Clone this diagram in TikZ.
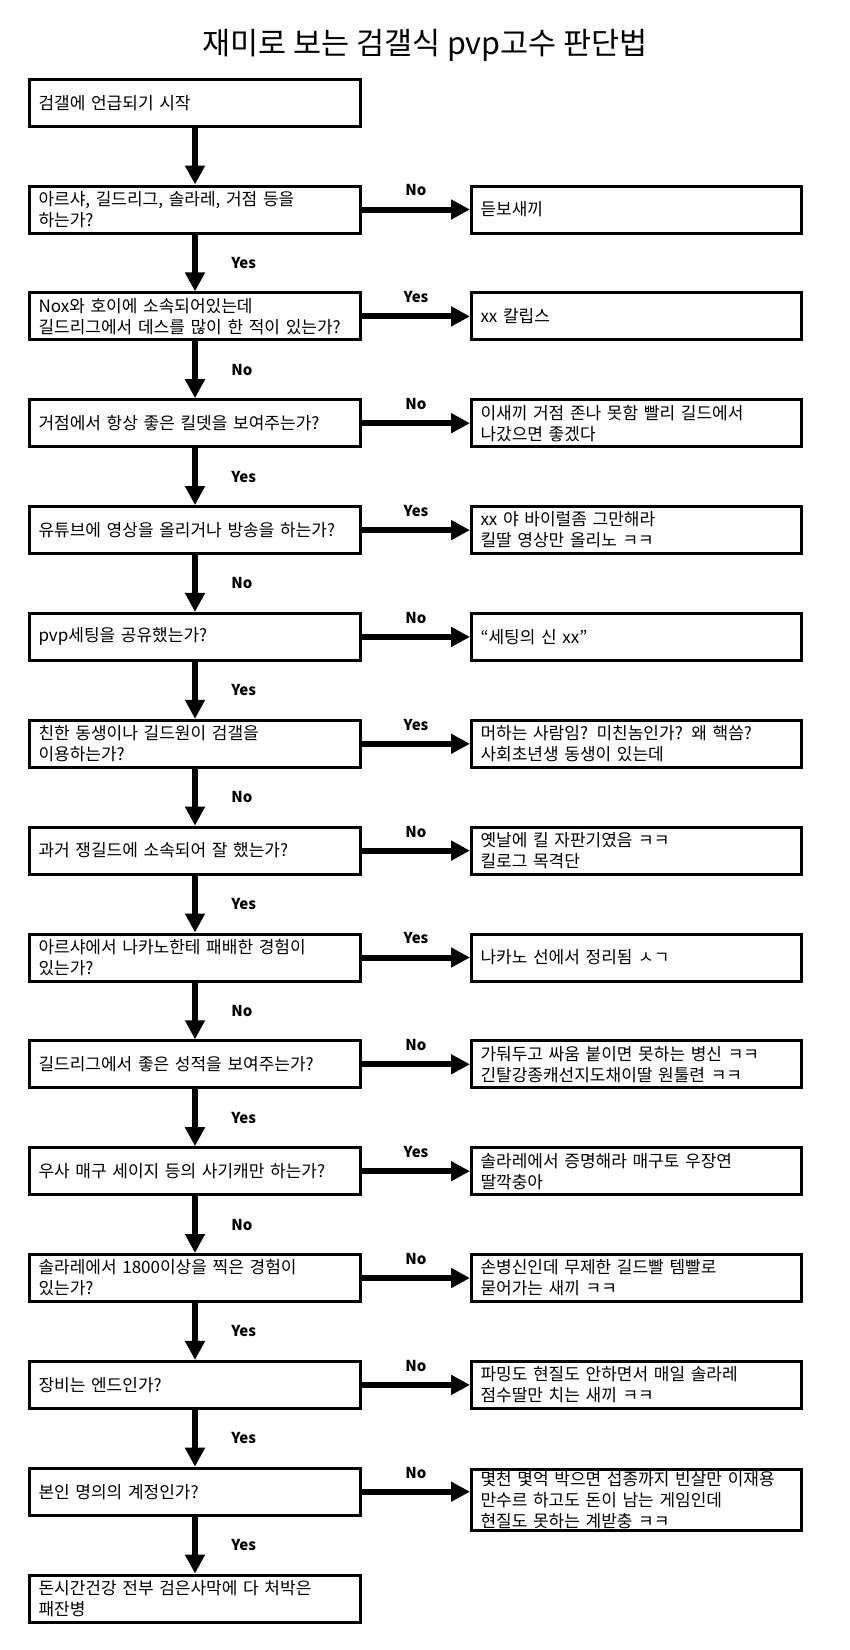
\documentclass[tikz,border=0pt]{standalone}
\usepackage{fontspec}
\setmainfont{Noto Sans CJK KR}
\usetikzlibrary{arrows.meta}

\tikzset{
  qbox/.style={draw, line width=3pt, anchor=west, minimum height=47pt,
    text width=313pt, inner xsep=9pt, inner ysep=3pt, align=left,
    font=\fontsize{17}{21}\selectfont},
  abox/.style={qbox, text width=312pt},
  flow/.style={line width=6pt, -{Triangle[length=19pt,width=19pt]}},
  ans/.style={font=\bfseries\fontsize{15}{17}\selectfont, midway}
}

\begin{document}
\begin{tikzpicture}[x=1pt,y=-1pt]
\useasboundingbox (0,0) rectangle (850,1650);
\node (title) at (425,45) {\fontsize{30.5}{36}\selectfont 재미로 보는 검갤식 pvp고수 판단법};

% questions
\node[qbox] (start) at (28,102.7) {검갤에 언급되기 시작};
\node[qbox] (q1) at (28,209.5) {아르샤, 길드리그, 솔라레, 거점 등을\\하는가?};
\node[qbox] (q2) at (28,316.4) {Nox와 호이에 소속되어있는데\\\mbox{길드리그에서 데스를 많이 한 적이 있는가?}};
\node[qbox] (q3) at (28,423.2) {거점에서 항상 좋은 킬뎃을 보여주는가?};
\node[qbox] (q4) at (28,530.1) {유튜브에 영상을 올리거나 방송을 하는가?};
\node[qbox] (q5) at (28,636.9) {pvp세팅을 공유했는가?};
\node[qbox] (q6) at (28,743.8) {친한 동생이나 길드원이 검갤을\\이용하는가?};
\node[qbox] (q7) at (28,850.6) {과거 쟁길드에 소속되어 잘 했는가?};
\node[qbox] (q8) at (28,957.5) {아르샤에서 나카노한테 패배한 경험이\\있는가?};
\node[qbox] (q9) at (28,1064.3) {길드리그에서 좋은 성적을 보여주는가?};
\node[qbox] (q10) at (28,1171.2) {우사 매구 세이지 등의 사기캐만 하는가?};
\node[qbox] (q11) at (28,1278.0) {솔라레에서 1800이상을 찍은 경험이\\있는가?};
\node[qbox] (q12) at (28,1384.9) {장비는 엔드인가?};
\node[qbox] (q13) at (28,1491.7) {본인 명의의 계정인가?};
\node[qbox] (last) at (28,1598.6) {돈시간건강 전부 검은사막에 다 처박은\\패잔병};

% answers
\node[abox] (a1) at (470,209.5) {듣보새끼};
\node[abox] (a2) at (470,316.4) {xx 칼립스};
\node[abox] (a3) at (470,423.2) {이새끼 거점 존나 못함 빨리 길드에서\\나갔으면 좋겠다};
\node[abox] (a4) at (470,530.1) {xx 야 바이럴좀 그만해라\\킬딸 영상만 올리노 ㅋㅋ};
\node[abox] (a5) at (470,636.9) {“세팅의 신 xx”};
\node[abox] (a6) at (470,743.8) {머하는 사람임? 미친놈인가? 왜 핵씀?\\사회초년생 동생이 있는데};
\node[abox] (a7) at (470,850.6) {옛날에 킬 자판기였음 ㅋㅋ\\킬로그 목격단};
\node[abox] (a8) at (470,957.5) {나카노 선에서 정리됨 ㅅㄱ};
\node[abox] (a9) at (470,1064.3) {가둬두고 싸움 붙이면 못하는 병신 ㅋㅋ\\긴탈강종캐선지도채이딸 원툴련 ㅋㅋ};
\node[abox] (a10) at (470,1171.2) {솔라레에서 증명해라 매구토 우장연\\딸깍충아};
\node[abox] (a11) at (470,1278.0) {손병신인데 무제한 길드빨 템빨로\\묻어가는 새끼 ㅋㅋ};
\node[abox] (a12) at (470,1384.9) {파밍도 현질도 안하면서 매일 솔라레\\점수딸만 치는 새끼 ㅋㅋ};
\node[abox, anchor=north west, inner ysep=2pt] (a13) at (470,1468) {\mbox{몇천 몇억 박으면 섭종까지 빈살만 이재용}\\만수르 하고도 돈이 남는 게임인데\\현질도 못하는 계받충 ㅋㅋ};

% down arrows
\draw[flow] (start) -- (q1);
\draw[flow] (q1) -- node[ans, right=30pt]{Yes} (q2);
\draw[flow] (q2) -- node[ans, right=30pt]{No} (q3);
\draw[flow] (q3) -- node[ans, right=30pt]{Yes} (q4);
\draw[flow] (q4) -- node[ans, right=30pt]{No} (q5);
\draw[flow] (q5) -- node[ans, right=30pt]{Yes} (q6);
\draw[flow] (q6) -- node[ans, right=30pt]{No} (q7);
\draw[flow] (q7) -- node[ans, right=30pt]{Yes} (q8);
\draw[flow] (q8) -- node[ans, right=30pt]{No} (q9);
\draw[flow] (q9) -- node[ans, right=30pt]{Yes} (q10);
\draw[flow] (q10) -- node[ans, right=30pt]{No} (q11);
\draw[flow] (q11) -- node[ans, right=30pt]{Yes} (q12);
\draw[flow] (q12) -- node[ans, right=30pt]{Yes} (q13);
\draw[flow] (q13) -- node[ans, right=30pt]{Yes} (last);

% side arrows
\draw[flow] (q1) -- node[ans, above=7pt]{No} (a1);
\draw[flow] (q2) -- node[ans, above=7pt]{Yes} (a2);
\draw[flow] (q3) -- node[ans, above=7pt]{No} (a3);
\draw[flow] (q4) -- node[ans, above=7pt]{Yes} (a4);
\draw[flow] (q5) -- node[ans, above=7pt]{No} (a5);
\draw[flow] (q6) -- node[ans, above=7pt]{Yes} (a6);
\draw[flow] (q7) -- node[ans, above=7pt]{No} (a7);
\draw[flow] (q8) -- node[ans, above=7pt]{Yes} (a8);
\draw[flow] (q9) -- node[ans, above=7pt]{No} (a9);
\draw[flow] (q10) -- node[ans, above=7pt]{Yes} (a10);
\draw[flow] (q11) -- node[ans, above=7pt]{No} (a11);
\draw[flow] (q12) -- node[ans, above=7pt]{No} (a12);
\draw[flow] (q13) -- node[ans, above=7pt]{No} (q13 -| a13.west);
\end{tikzpicture}
\end{document}
